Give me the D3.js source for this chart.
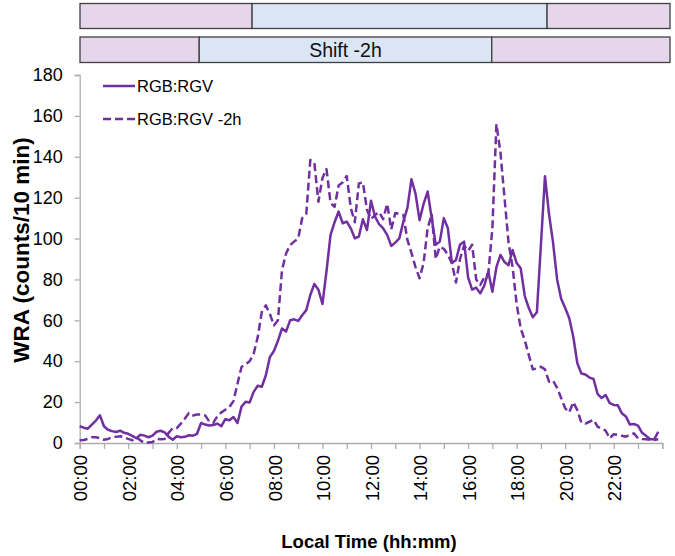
<!DOCTYPE html>
<html>
<head>
<meta charset="utf-8">
<script src="https://cdn.jsdelivr.net/npm/d3@7"></script>
<style>
  html, body { margin: 0; padding: 0; background: #fff; }
  svg { display: block; font-family: "Liberation Sans", Arial, sans-serif; }
</style>
</head>
<body>
<svg id="chart" width="675" height="556"></svg>
<script>
// ---------- data (10-minute bins) ----------
const tickLabels = ["00:00","02:00","04:00","06:00","08:00","10:00","12:00","14:00","16:00","18:00","20:00","22:00"];
const seriesNames = ["RGB:RGV", "RGB:RGV -2h"];

const rgv = [
  8.2, 7.5, 7, 9, 11, 13.5,
  8.2, 6.5, 5.8, 5.4, 6, 5,
  4.5, 3.5, 2.3, 4, 3.6, 2.8,
  3.6, 5.5, 6, 5.2, 3, 1.6,
  3.3, 2.8, 3, 3.8, 3.6, 4.5,
  9.8, 9, 8.6, 8.8, 9.5, 8.2,
  11.7, 11.1, 12.7, 9.8, 17.8, 20.2,
  19.8, 25, 28, 27.5, 33, 42,
  45, 50, 56, 54.5, 60, 60.5,
  59.7, 62.5, 65, 72.4, 77.8, 75,
  68, 84, 101.8, 108, 113.2, 107.5,
  108.3, 105, 100.1, 101, 109.4, 104.2,
  118.5, 110.7, 107, 105, 101.8, 96.4,
  98, 100.1, 108.3, 115, 129, 122,
  109, 117, 123, 110, 97, 98.5,
  110, 105, 88, 89.5, 97, 98.5,
  81, 75, 76, 73.2, 77, 83.8,
  74, 86, 92, 88.5, 87, 94.4,
  88, 85.5, 72, 66, 61.5, 64,
  97, 130.5, 112, 98, 80, 70.5,
  66, 61, 52, 39, 34, 33.5,
  32, 31.3, 24, 22, 23.5, 19.5,
  18.6, 18.5, 14.5, 13, 9, 9.3,
  8.5, 5, 3.5, 1.8, 1.8, 5.5
];

const rgvShift = [
  1.3, 1.5, 2, 2.8, 2.8, 2.4,
  1.6, 2, 2.8, 3, 3.3, 2.8,
  2, 1.3, 2.8, 1.3, 0, 0.3,
  0.5, 2, 1.8, 2, 5, 7.3,
  7.3, 9.5, 12, 14.7, 13.5, 13.9,
  13.9, 13.5, 10.6, 9.8, 13, 15,
  16.3, 17.6, 20.5, 29, 37.2, 38.5,
  40, 43.7, 51.8, 64, 67.3, 63.2,
  57.5, 60, 84.6, 92.7, 96.8, 98.5,
  100, 110, 112, 138.4, 137, 118,
  129.6, 134, 117.4, 115.5, 126, 127.5,
  130.6, 115, 108, 127, 127.5, 114,
  109.5, 111.5, 113, 109.5, 117, 104.5,
  112.5, 112, 111.5, 99.3, 93, 86,
  80.6, 88, 105, 112, 90, 96,
  95, 92, 88, 78.5, 90, 96.5,
  94, 97, 80, 77.3, 81, 83,
  105, 156, 142, 120, 98, 86,
  68, 56, 50.4, 43, 36, 36.5,
  37.3, 36, 30, 30.5, 27, 22,
  17, 15, 20, 16, 10, 9.5,
  10.4, 11.3, 8, 7, 6, 2.3,
  4.3, 4, 3.5, 3.1, 4, 4.7,
  2.3, 2, 1.8, 1.5, 1.5, 1.8
];

// time of each bin in hours
const hours = rgv.map((_, i) => i / 6);

// day/night bars (hours of the boundaries)
const barTop = [0, 7, 19, 24];
const barShift = [0, 4.85, 16.75, 24];
const barKinds = ["night", "day", "night"];
const barLabel = "Shift -2h";

// ---------- drawing ----------
const svg = d3.select("#chart");
const purple = "#7030A0";
const axisGrey = "#ADADAD";

const x = d3.scaleLinear().domain([0, 24]).range([79.7, 662.3]);
const y = d3.scaleLinear().domain([0, 180]).range([443, 75]);
const xb = d3.scaleLinear().domain([0, 24]).range([80, 670]);
const fillFor = k => k === "day" ? "#DAE6F5" : "#E5D6EB";

function drawBar(bounds, y0, h) {
  const g = svg.append("g");
  for (let i = 0; i < bounds.length - 1; i++) {
    g.append("rect")
      .attr("x", xb(bounds[i])).attr("y", y0)
      .attr("width", xb(bounds[i + 1]) - xb(bounds[i])).attr("height", h)
      .attr("fill", fillFor(barKinds[i]))
      .attr("stroke", "#404040").attr("stroke-width", 1.3);
  }
  return g;
}
drawBar(barTop, 3.5, 25);
drawBar(barShift, 37, 25.5);
svg.append("text")
  .attr("x", (xb(barShift[1]) + xb(barShift[2])) / 2).attr("y", 50)
  .attr("dy", "0.36em").attr("text-anchor", "middle")
  .attr("font-size", 19.5).attr("fill", "#111")
  .text(barLabel);

// y axis
const yAxis = svg.append("g").attr("transform", `translate(${x(0)},0)`)
  .call(d3.axisLeft(y).tickValues(d3.range(0, 181, 20)).tickSize(5).tickPadding(12));
yAxis.selectAll("text").attr("font-size", 18).attr("fill", "#000")
  .attr("font-family", "'Liberation Sans', Arial, sans-serif");

// x axis
const xAxis = svg.append("g").attr("transform", `translate(0,${y(0)})`)
  .call(d3.axisBottom(x).tickValues(d3.range(0, 25, 1)).tickSize(6).tickFormat(""));
[xAxis, yAxis].forEach(a => {
  a.select(".domain").attr("stroke", axisGrey).attr("stroke-width", 1.3);
  a.selectAll(".tick line").attr("stroke", axisGrey).attr("stroke-width", 1.3);
});

// rotated x labels
svg.append("g").selectAll("text").data(tickLabels).join("text")
  .attr("transform", (d, i) => `translate(${x(i * 2) + 1},455) rotate(-90)`)
  .attr("text-anchor", "end").attr("dy", "0.36em")
  .attr("font-size", 18.5).attr("fill", "#000")
  .text(d => d);

// axis titles
svg.append("text")
  .attr("transform", "translate(21,250) rotate(-90)")
  .attr("text-anchor", "middle").attr("dy", "0.36em")
  .attr("font-size", 22.5).attr("font-weight", "bold")
  .text("WRA (counts/10 min)");
svg.append("text")
  .attr("x", 369).attr("y", 541).attr("dy", "0.36em")
  .attr("text-anchor", "middle")
  .attr("font-size", 18.5).attr("font-weight", "bold")
  .text("Local Time (hh:mm)");

// lines
const line = d3.line().x((d, i) => x(hours[i])).y(d => y(d));
svg.append("path").datum(rgvShift)
  .attr("d", line).attr("fill", "none").attr("stroke", purple)
  .attr("stroke-width", 2.5).attr("stroke-dasharray", "8,4")
  .attr("stroke-linejoin", "round");
svg.append("path").datum(rgv)
  .attr("d", line).attr("fill", "none").attr("stroke", purple)
  .attr("stroke-width", 2.5).attr("stroke-linejoin", "round");

// legend
const legend = svg.append("g");
seriesNames.forEach((name, i) => {
  const ly = 86 + i * 33;
  legend.append("line")
    .attr("x1", 103).attr("x2", 135).attr("y1", ly).attr("y2", ly)
    .attr("stroke", purple).attr("stroke-width", 2.5)
    .attr("stroke-dasharray", i === 1 ? "8,4" : null);
  legend.append("text")
    .attr("x", 137).attr("y", ly).attr("dy", "0.36em")
    .attr("font-size", 16.5).attr("fill", "#000")
    .text(name);
});
</script>
</body>
</html>
